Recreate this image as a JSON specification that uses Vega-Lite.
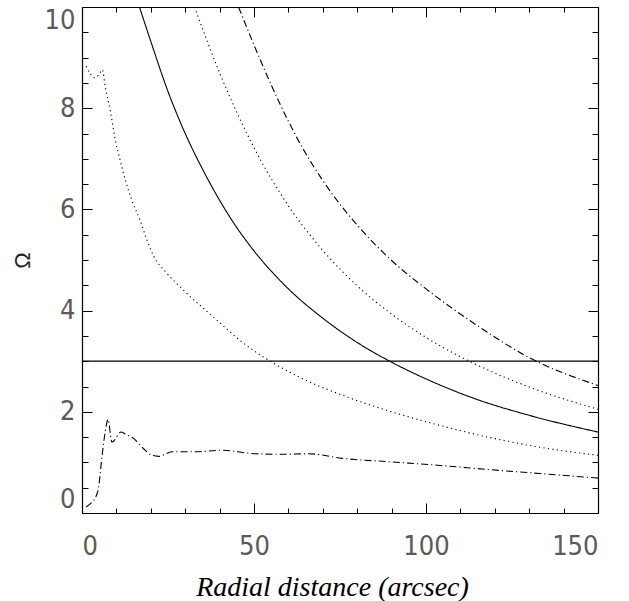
{
  "$schema": "https://vega.github.io/schema/vega-lite/v6.json",
  "width": 516,
  "height": 506,
  "autosize": {"type": "none"},
  "padding": {"left": 82, "top": 7, "right": 31, "bottom": 88},
  "background": "white",
  "config": {
    "view": {"stroke": null},
    "axis": {
      "grid": false,
      "domainColor": "black",
      "domainWidth": 1.2,
      "tickColor": "black",
      "tickWidth": 1,
      "labelFont": "Liberation Sans Narrow, DejaVu Sans Condensed, Roboto",
      "labelFontSize": 27,
      "labelColor": "#5a5a5a",
      "labelFontWeight": 300
    }
  },
  "datasets": {
    "curves": [
      {"s": "A", "d": "solid", "r": 16.7, "w": 10},
      {"s": "A", "d": "solid", "r": 20, "w": 9.32},
      {"s": "A", "d": "solid", "r": 25, "w": 8.33},
      {"s": "A", "d": "solid", "r": 30, "w": 7.5},
      {"s": "A", "d": "solid", "r": 35, "w": 6.8},
      {"s": "A", "d": "solid", "r": 40, "w": 6.18},
      {"s": "A", "d": "solid", "r": 45, "w": 5.64},
      {"s": "A", "d": "solid", "r": 50, "w": 5.18},
      {"s": "A", "d": "solid", "r": 60, "w": 4.43},
      {"s": "A", "d": "solid", "r": 70, "w": 3.85},
      {"s": "A", "d": "solid", "r": 80, "w": 3.37},
      {"s": "A", "d": "solid", "r": 90, "w": 2.98},
      {"s": "A", "d": "solid", "r": 100, "w": 2.65},
      {"s": "A", "d": "solid", "r": 115, "w": 2.24},
      {"s": "A", "d": "solid", "r": 130, "w": 1.93},
      {"s": "A", "d": "solid", "r": 150, "w": 1.6},

      {"s": "B", "d": "dotted", "r": 32.7, "w": 10},
      {"s": "B", "d": "dotted", "r": 40, "w": 8.7},
      {"s": "B", "d": "dotted", "r": 50, "w": 7.22},
      {"s": "B", "d": "dotted", "r": 60, "w": 6.07},
      {"s": "B", "d": "dotted", "r": 70, "w": 5.19},
      {"s": "B", "d": "dotted", "r": 80, "w": 4.49},
      {"s": "B", "d": "dotted", "r": 90, "w": 3.93},
      {"s": "B", "d": "dotted", "r": 100, "w": 3.47},
      {"s": "B", "d": "dotted", "r": 115, "w": 2.92},
      {"s": "B", "d": "dotted", "r": 130, "w": 2.49},
      {"s": "B", "d": "dotted", "r": 150, "w": 2.05},

      {"s": "C", "d": "dashdot", "r": 45.5, "w": 10},
      {"s": "C", "d": "dashdot", "r": 50, "w": 9.25},
      {"s": "C", "d": "dashdot", "r": 55, "w": 8.46},
      {"s": "C", "d": "dashdot", "r": 60, "w": 7.74},
      {"s": "C", "d": "dashdot", "r": 65, "w": 7.11},
      {"s": "C", "d": "dashdot", "r": 70, "w": 6.57},
      {"s": "C", "d": "dashdot", "r": 75, "w": 6.1},
      {"s": "C", "d": "dashdot", "r": 80, "w": 5.69},
      {"s": "C", "d": "dashdot", "r": 90, "w": 4.99},
      {"s": "C", "d": "dashdot", "r": 100, "w": 4.43},
      {"s": "C", "d": "dashdot", "r": 115, "w": 3.7},
      {"s": "C", "d": "dashdot", "r": 130, "w": 3.07},
      {"s": "C", "d": "dashdot", "r": 150, "w": 2.52},

      {"s": "D", "d": "dotted", "r": 1.2, "w": 8.83},
      {"s": "D", "d": "dotted", "r": 3.8, "w": 8.6},
      {"s": "D", "d": "dotted", "r": 4.8, "w": 8.65},
      {"s": "D", "d": "dotted", "r": 5.9, "w": 8.76},
      {"s": "D", "d": "dotted", "r": 6.8, "w": 8.4},
      {"s": "D", "d": "dotted", "r": 8.2, "w": 7.96},
      {"s": "D", "d": "dotted", "r": 9.7, "w": 7.37},
      {"s": "D", "d": "dotted", "r": 11.1, "w": 6.97},
      {"s": "D", "d": "dotted", "r": 12.6, "w": 6.58},
      {"s": "D", "d": "dotted", "r": 14.5, "w": 6.18},
      {"s": "D", "d": "dotted", "r": 16.9, "w": 5.78},
      {"s": "D", "d": "dotted", "r": 18.9, "w": 5.39},
      {"s": "D", "d": "dotted", "r": 20.8, "w": 5.08},
      {"s": "D", "d": "dotted", "r": 24.5, "w": 4.75},
      {"s": "D", "d": "dotted", "r": 29.1, "w": 4.43},
      {"s": "D", "d": "dotted", "r": 38.75, "w": 3.84},
      {"s": "D", "d": "dotted", "r": 46.5, "w": 3.38},
      {"s": "D", "d": "dotted", "r": 54.7, "w": 3.0},
      {"s": "D", "d": "dotted", "r": 63.95, "w": 2.66},
      {"s": "D", "d": "dotted", "r": 75.6, "w": 2.33},
      {"s": "D", "d": "dotted", "r": 90.0, "w": 2.0},
      {"s": "D", "d": "dotted", "r": 104.1, "w": 1.73},
      {"s": "D", "d": "dotted", "r": 118.0, "w": 1.5},
      {"s": "D", "d": "dotted", "r": 133.1, "w": 1.3},
      {"s": "D", "d": "dotted", "r": 150, "w": 1.14},

      {"s": "E", "d": "dashdot", "r": 1.2, "w": 0.12},
      {"s": "E", "d": "dashdot", "r": 3.0, "w": 0.22},
      {"s": "E", "d": "dashdot", "r": 3.9, "w": 0.3},
      {"s": "E", "d": "dashdot", "r": 4.8, "w": 0.5},
      {"s": "E", "d": "dashdot", "r": 5.8, "w": 1.11},
      {"s": "E", "d": "dashdot", "r": 6.8, "w": 1.63},
      {"s": "E", "d": "dashdot", "r": 7.56, "w": 1.85},
      {"s": "E", "d": "dashdot", "r": 8.7, "w": 1.4},
      {"s": "E", "d": "dashdot", "r": 11.4, "w": 1.6},
      {"s": "E", "d": "dashdot", "r": 13.1, "w": 1.54},
      {"s": "E", "d": "dashdot", "r": 14.5, "w": 1.5},
      {"s": "E", "d": "dashdot", "r": 17.9, "w": 1.27},
      {"s": "E", "d": "dashdot", "r": 20.0, "w": 1.15},
      {"s": "E", "d": "dashdot", "r": 22.3, "w": 1.12},
      {"s": "E", "d": "dashdot", "r": 26.2, "w": 1.21},
      {"s": "E", "d": "dashdot", "r": 32.9, "w": 1.21},
      {"s": "E", "d": "dashdot", "r": 40.7, "w": 1.24},
      {"s": "E", "d": "dashdot", "r": 50.4, "w": 1.17},
      {"s": "E", "d": "dashdot", "r": 58.0, "w": 1.16},
      {"s": "E", "d": "dashdot", "r": 65.9, "w": 1.17},
      {"s": "E", "d": "dashdot", "r": 75.6, "w": 1.08},
      {"s": "E", "d": "dashdot", "r": 90.0, "w": 1.01},
      {"s": "E", "d": "dashdot", "r": 104.1, "w": 0.94},
      {"s": "E", "d": "dashdot", "r": 118.0, "w": 0.86},
      {"s": "E", "d": "dashdot", "r": 133.1, "w": 0.78},
      {"s": "E", "d": "dashdot", "r": 150, "w": 0.69}
    ],
    "ref": [{"x0": 0, "x1": 150, "y": 3}]
  },
  "resolve": {"axis": {"x": "independent", "y": "independent"}},
  "layer": [
    {
      "data": {"name": "curves"},
      "transform": [{"filter": "datum.s === 'A'"}],
      "mark": {"type": "line", "color": "black", "strokeWidth": 1.1, "interpolate": "monotone", "clip": true},
      "encoding": {
        "x": {"field": "r", "type": "quantitative", "scale": {"domain": [0, 150], "nice": false, "zero": false},
          "axis": {"orient": "bottom", "values": [0, 50, 100, 150], "tickSize": -10, "labelPadding": 30,
            "title": "Radial distance (arcsec)", "titleFont": "Liberation Serif", "titleFontStyle": "italic",
            "titleFontWeight": "normal", "titleFontSize": 28, "titleColor": "black", "titleX": 250, "titleY": 82,
            "titleBaseline": "alphabetic"}},
        "y": {"field": "w", "type": "quantitative", "scale": {"domain": [0, 10], "nice": false, "zero": false},
          "axis": {"orient": "left", "values": [0, 2, 4, 6, 8, 10], "tickSize": -10, "labelPadding": 17, "labelFlush": true,
            "title": "Ω", "titleFont": "Liberation Sans", "titleFontWeight": "normal", "titleFontSize": 22,
            "titleColor": "#222", "titleX": -60, "titleY": 253, "titleBaseline": "middle", "titleAngle": -90}},
        "strokeDash": {"field": "d", "type": "nominal", "legend": null,
          "scale": {"domain": ["solid", "dotted", "dashdot"], "range": [[1, 0], [1.2, 3.3], [7, 3, 1.2, 3]]}},
        "detail": {"field": "s"}
      }
    },
    {
      "data": {"name": "curves"},
      "transform": [{"filter": "datum.s === 'B' || datum.s === 'C'"}],
      "mark": {"type": "line", "color": "black", "strokeWidth": 1.1, "interpolate": "monotone", "clip": true},
      "encoding": {
        "x": {"field": "r", "type": "quantitative", "scale": {"domain": [0, 150], "nice": false, "zero": false},
          "axis": {"orient": "top", "values": [0, 50, 100, 150], "tickSize": -10, "labels": false, "title": null}},
        "y": {"field": "w", "type": "quantitative", "scale": {"domain": [0, 10], "nice": false, "zero": false},
          "axis": {"orient": "right", "values": [0, 2, 4, 6, 8, 10], "tickSize": -10, "labels": false, "title": null}},
        "strokeDash": {"field": "d", "type": "nominal", "legend": null,
          "scale": {"domain": ["solid", "dotted", "dashdot"], "range": [[1, 0], [1.2, 3.3], [7, 3, 1.2, 3]]}},
        "detail": {"field": "s"}
      }
    },
    {
      "data": {"name": "curves"},
      "transform": [{"filter": "datum.s === 'D' || datum.s === 'E'"}],
      "mark": {"type": "line", "color": "black", "strokeWidth": 1.1, "interpolate": "monotone", "clip": true},
      "encoding": {
        "x": {"field": "r", "type": "quantitative", "scale": {"domain": [0, 150], "nice": false, "zero": false},
          "axis": {"orient": "bottom", "values": [10, 20, 30, 40, 60, 70, 80, 90, 110, 120, 130, 140], "tickSize": -5,
            "labels": false, "domain": false, "title": null}},
        "y": {"field": "w", "type": "quantitative", "scale": {"domain": [0, 10], "nice": false, "zero": false},
          "axis": {"orient": "left", "values": [0.5, 1, 1.5, 2.5, 3, 3.5, 4.5, 5, 5.5, 6.5, 7, 7.5, 8.5, 9, 9.5],
            "tickSize": -6, "labels": false, "domain": false, "title": null}},
        "strokeDash": {"field": "d", "type": "nominal", "legend": null,
          "scale": {"domain": ["solid", "dotted", "dashdot"], "range": [[1, 0], [1.2, 3.3], [7, 3, 1.2, 3]]}},
        "detail": {"field": "s"}
      }
    },
    {
      "data": {"name": "ref"},
      "mark": {"type": "rule", "color": "black", "strokeWidth": 1.2},
      "encoding": {
        "x": {"field": "x0", "type": "quantitative", "scale": {"domain": [0, 150], "nice": false, "zero": false},
          "axis": {"orient": "top", "values": [10, 20, 30, 40, 60, 70, 80, 90, 110, 120, 130, 140], "tickSize": -5,
            "labels": false, "domain": false, "title": null}},
        "x2": {"field": "x1"},
        "y": {"field": "y", "type": "quantitative", "scale": {"domain": [0, 10], "nice": false, "zero": false},
          "axis": {"orient": "right", "values": [0.5, 1, 1.5, 2.5, 3, 3.5, 4.5, 5, 5.5, 6.5, 7, 7.5, 8.5, 9, 9.5],
            "tickSize": -6, "labels": false, "domain": false, "title": null}}
      }
    }
  ]
}
